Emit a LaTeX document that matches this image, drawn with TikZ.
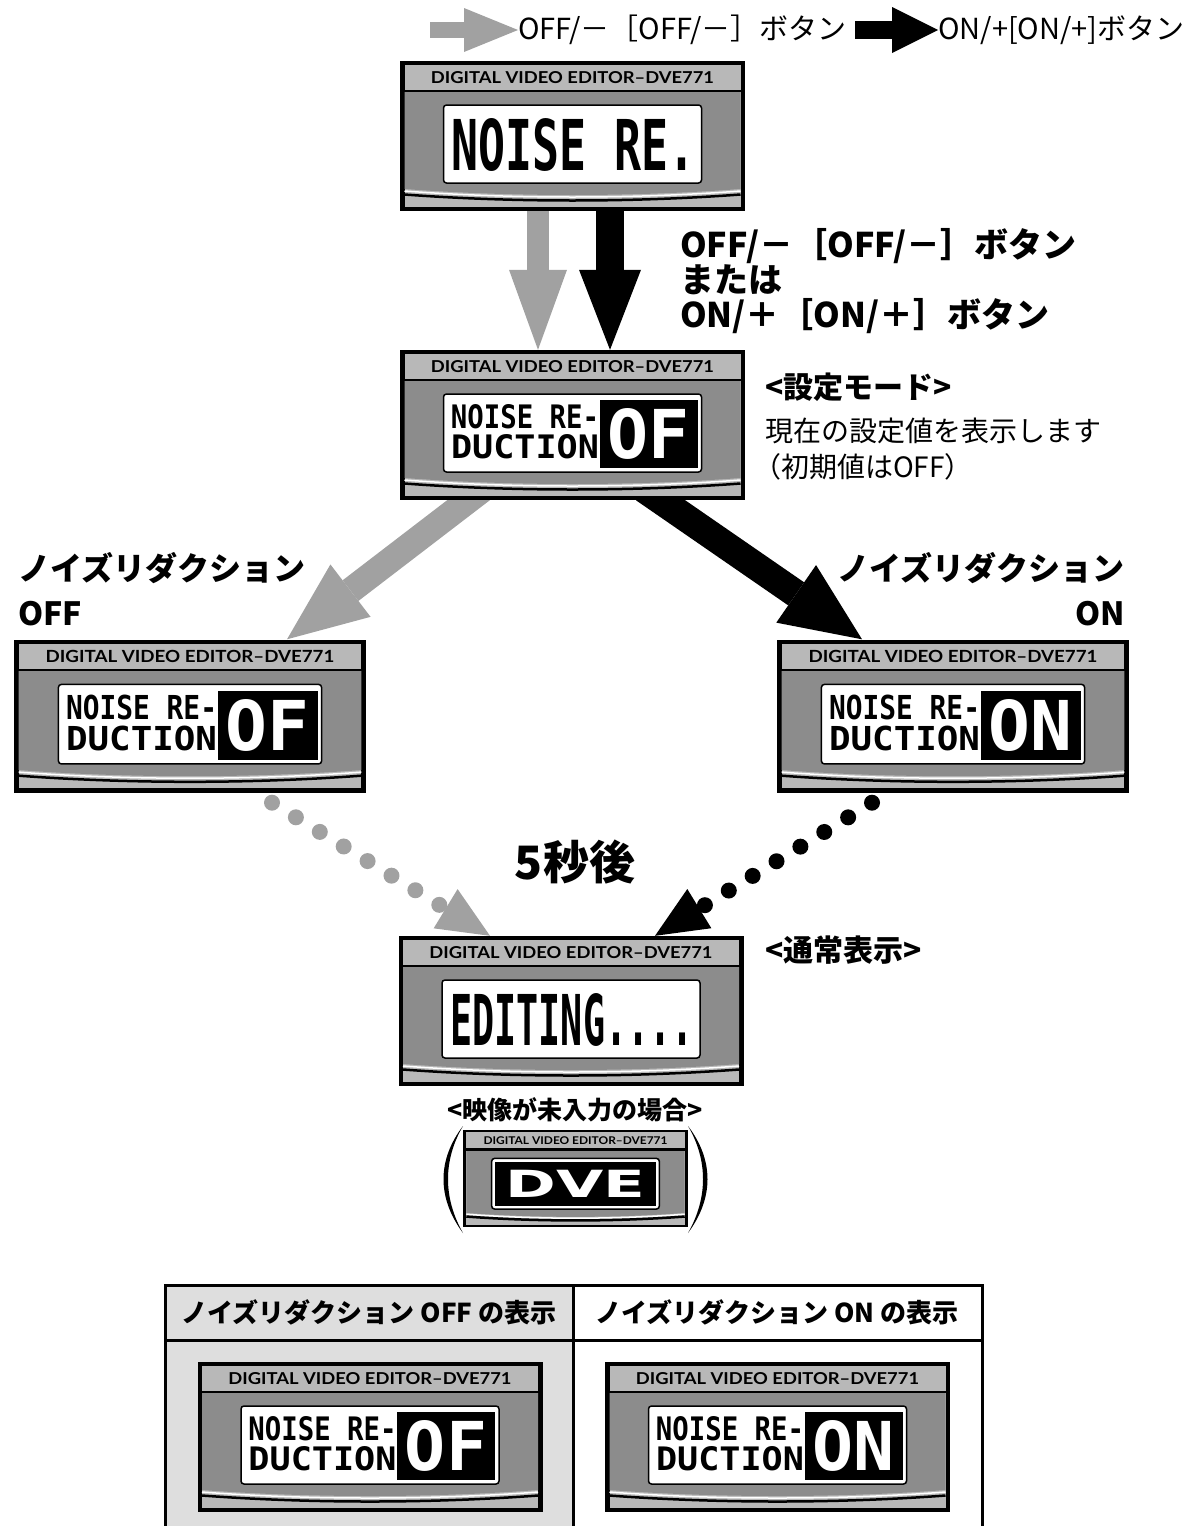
\documentclass[tikz,border=0pt]{standalone}
\usepackage{fontspec}
\usepackage{graphicx}
\usetikzlibrary{arrows.meta,backgrounds}

\newfontfamily\jp{Noto Sans CJK JP}
\newfontfamily\lcdfont{DejaVu Sans Mono}
\newfontfamily\brandfont{Lato}
\newfontfamily\logofont{DejaVu Sans}

\definecolor{arrowgray}{gray}{0.63}
\definecolor{lcdlight}{gray}{0.72}
\definecolor{lcdbody}{gray}{0.55}
\definecolor{cellgray}{gray}{0.87}

\tikzset{
  lcdframe/.style={rectangle, fill=black, inner sep=0pt, minimum width=345pt, minimum height=150pt},
  lcdtext/.style={inner sep=0pt, font=\lcdfont\bfseries},
  legendtext/.style={inner sep=0pt, font=\jp\fontsize{29}{30}\selectfont},
  jplabel/.style={inner sep=0pt, font=\jp\bfseries\fontsize{32}{36}\selectfont},
  tabhead/.style={inner sep=0pt, font=\jp\bfseries\fontsize{26}{28}\selectfont},
  offdown/.style={arrowgray, line width=22pt, -{Triangle[length=80pt,width=58pt,line width=0pt]}},
  ondown/.style={black, line width=28pt, -{Triangle[length=80pt,width=62pt,line width=0pt]}},
  offslant/.style={arrowgray, line width=26pt, -{Triangle[length=80pt,width=66pt,line width=0pt]}},
  onslant/.style={black, line width=28pt, -{Triangle[length=80pt,width=70pt,line width=0pt]}},
  dots/.style={line width=16pt, line cap=round, dash pattern=on 0pt off 28pt, -{Triangle[length=52pt,width=46pt,line width=0pt]}}
}

% one display panel: name, centre, scale, what the screen shows
\newcommand{\lcdpanel}[4]{%
  \begin{scope}[shift={#2}, scale=#3, transform shape]
    \node[lcdframe] (#1) at (0,0) {};
    \fill[lcdlight] (-168,-71) rectangle (168,71);
    \fill[lcdbody] (-168,-44) -- (168,-44) -- (168,53) .. controls (60,61) and (-60,61) .. (-168,53) -- cycle;
    \draw[white, line width=1.5pt] (-168,55) .. controls (-60,63) and (60,63) .. (168,55);
    \draw[line width=2.5pt] (-168,58.5) .. controls (-60,66.5) and (60,66.5) .. (168,58.5);
    \draw[line width=2.5pt] (-168,-45) -- (168,-45);
    \node[inner sep=0pt] at (0,-58) {\resizebox{283pt}{12pt}{\brandfont\bfseries DIGITAL VIDEO EDITOR–DVE771}};
    \filldraw[fill=white, line width=1.5pt, rounded corners=3pt] (-129,-31) rectangle (129,47);
    #4
  \end{scope}}

% screen with one big line
\newcommand{\scrbig}[1]{\node[lcdtext] at (1,9) {\resizebox{243pt}{52pt}{#1}};}
% screen with the setting
\newcommand{\scrnr}[1]{%
  \node[lcdtext] at (-47.5,-8) {\resizebox{148pt}{24pt}{NOISE RE-}};
  \node[lcdtext] at (-47.5,22) {\resizebox{148pt}{24pt}{DUCTION}};
  \fill (27,-25) rectangle (125,43);
  \node[lcdtext, text=white] at (76,9) {\resizebox{82pt}{50pt}{#1}};}
% screen with the logo
\newcommand{\scrlogo}{%
  \fill (-124,-26) rectangle (124,42);
  \node[inner sep=0pt, text=white, font=\logofont\bfseries] at (0,8) {\resizebox{215pt}{42pt}{DVE}};}

\begin{document}
\begin{tikzpicture}[x=1pt, y=-1pt]
  \useasboundingbox (0,0) rectangle (1186,1526);

  % legend
  \node[legendtext, anchor=west] (legoff) at (518,30) {OFF/－［OFF/－］ボタン};
  \node[legendtext, anchor=west] (legon) at (938,30) {ON/+[ON/+]ボタン};
  \coordinate (legoffstart) at (430,30);
  \coordinate (legonstart) at (855,30);
  \draw[arrowgray, line width=16pt, -{Triangle[length=54pt,width=44pt,line width=0pt]}] (legoffstart) -- (legoff.west);
  \draw[black, line width=18pt, -{Triangle[length=46pt,width=46pt,line width=0pt]}] (legonstart) -- (legon.west);

  % table at the bottom
  \fill[cellgray] (165,1285) rectangle (573,1526);
  \draw[line width=3pt] (165,1526) -- (165,1285) -- (982,1285) -- (982,1526);
  \draw[line width=3pt] (165,1340) -- (982,1340);
  \draw[line width=3pt] (573,1285) -- (573,1526);
  \node[tabhead] (hoff) at (369,1312) {ノイズリダクション OFF の表示};
  \node[tabhead] (hon) at (777,1312) {ノイズリダクション ON の表示};

  % panels
  \lcdpanel{top}{(572.5,136)}{1}{\scrbig{NOISE RE.}}
  \lcdpanel{mode}{(572.5,425)}{1}{\scrnr{OF}}
  \lcdpanel{off}{(190,716)}{1.02}{\scrnr{OF}}
  \lcdpanel{on}{(953,716)}{1.02}{\scrnr{ON}}
  \lcdpanel{edit}{(571,1011)}{1}{\scrbig{EDITING....}}
  \lcdpanel{nosig}{(575.5,1178.5)}{0.65}{\scrlogo}
  \lcdpanel{taboff}{(370,1437)}{1}{\scrnr{OF}}
  \lcdpanel{tabon}{(777.5,1437)}{1}{\scrnr{ON}}

  % labels
  \node[anchor=north west, align=left, inner sep=0pt, font=\jp\bfseries\fontsize{34}{35}\selectfont] (btn) at (680,228)
    {OFF/－［OFF/－］ボタン\\または\\ON/＋［ON/＋］ボタン};
  \node[anchor=west, inner sep=0pt, font=\jp\bfseries\fontsize{30}{32}\selectfont] (modettl) at (765,387) {<設定モード>};
  \node[anchor=west, inner sep=0pt, font=\jp\fontsize{28}{30}\selectfont] (modetxt) at (765,431) {現在の設定値を表示します};
  \node[anchor=west, inner sep=0pt, font=\jp\fontsize{28}{30}\selectfont] (modeinit) at (753,467) {（初期値はOFF）};
  \node[jplabel, anchor=west] (offlbl) at (18,568) {ノイズリダクション};
  \node[jplabel, anchor=west] (offlbl2) at (18,614) {OFF};
  \node[jplabel, anchor=east] (onlbl) at (1125,568) {ノイズリダクション};
  \node[jplabel, anchor=east] (onlbl2) at (1125,614) {ON};
  \node[inner sep=0pt, font=\jp\bfseries\fontsize{46}{46}\selectfont] (wait) at (575,862) {5秒後};
  \node[anchor=west, inner sep=0pt, font=\jp\bfseries\fontsize{30}{32}\selectfont] (normal) at (765,950) {<通常表示>};
  \node[inner sep=0pt, font=\jp\bfseries\fontsize{25}{27}\selectfont] (nosigttl) at (575,1110) {<映像が未入力の場合>};

  % brackets round the small panel
  \fill (463,1126) .. controls (437,1160) and (437,1198) .. (463,1233) .. controls (443,1198) and (443,1160) .. (463,1126) -- cycle;
  \fill (688,1126) .. controls (714,1160) and (714,1198) .. (688,1233) .. controls (708,1198) and (708,1160) .. (688,1126) -- cycle;

  % arrows
  \begin{scope}[on background layer]
    \draw[offdown, shorten <=-10pt] ([xshift=-34.5pt]top.south) -- ([xshift=-34.5pt]mode.north);
    \draw[ondown, shorten <=-10pt] ([xshift=37.5pt]top.south) -- ([xshift=37.5pt]mode.north);
    \draw[offslant, shorten <=-20pt] ([xshift=-104pt]mode.south) -- ([xshift=97pt]off.north);
    \draw[onslant, shorten <=-20pt] ([xshift=88pt]mode.south) -- ([xshift=-91pt]on.north);
  \end{scope}
  \draw[arrowgray, dots] ([xshift=82pt,yshift=-10pt]off.south) -- ([xshift=-81pt]edit.north);
  \draw[black, dots] ([xshift=-81pt,yshift=-10pt]on.south) -- ([xshift=84pt]edit.north);
\end{tikzpicture}
\end{document}
